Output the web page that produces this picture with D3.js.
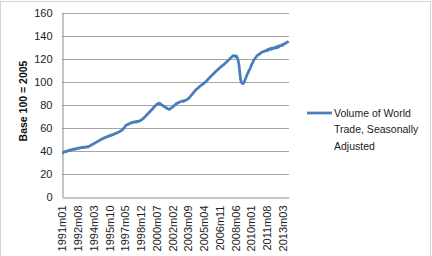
<!DOCTYPE html>
<html>
<head>
<meta charset="utf-8">
<script src="https://cdn.jsdelivr.net/npm/d3@7"></script>
<style>
  body { margin: 0; background: #fff; }
  svg { display: block; font-family: "Liberation Sans", Arial, sans-serif; }
</style>
</head>
<body>
<div id="chart"></div>
<script>
// monthly series, 1991m01 .. 2013m10
const startYear = 1991;
const volume = [
  38.5, 38.0, 38.9, 39.0, 39.4, 39.0, 39.7, 39.8, 40.2, 40.0, 40.6, 40.4,       // 1991
  40.9, 41.0, 41.3, 40.9, 41.6, 41.7, 41.5, 42.1, 42.2, 41.9, 42.5, 42.6,       // 1992
  42.4, 42.9, 42.6, 43.0, 42.7, 43.2, 43.3, 43.1, 43.7, 43.9, 44.4, 44.8,       // 1993
  45.3, 45.5, 46.1, 46.4, 47.0, 47.2, 47.6, 48.0, 48.5, 48.7, 49.4, 49.6,       // 1994
  50.1, 50.3, 50.9, 51.2, 51.1, 51.8, 52.0, 52.1, 52.7, 52.8, 53.3, 53.0,       // 1995
  53.6, 53.7, 54.3, 54.3, 54.9, 55.0, 55.4, 55.6, 56.1, 56.3, 56.9, 57.3,       // 1996
  57.9, 58.4, 59.4, 60.1, 61.3, 62.0, 62.6, 62.6, 63.1, 63.4, 63.8, 63.9,       // 1997
  64.4, 64.6, 64.3, 64.9, 65.1, 64.7, 65.3, 65.4, 65.2, 65.8, 66.0, 66.5,       // 1998
  66.8, 67.6, 68.0, 68.9, 69.6, 70.4, 71.0, 71.9, 72.6, 73.4, 74.0, 74.9,       // 1999
  75.5, 76.4, 77.2, 78.1, 78.8, 79.6, 80.1, 80.6, 81.2, 80.3, 80.9, 79.9,       // 2000
  79.6, 79.1, 78.7, 77.9, 77.9, 77.1, 77.1, 76.3, 76.1, 75.7, 76.3, 76.8,       // 2001
  77.4, 77.7, 78.6, 79.1, 79.9, 80.3, 81.0, 81.2, 81.7, 81.8, 82.4, 82.5,       // 2002
  82.9, 83.0, 82.6, 83.3, 83.4, 83.9, 84.2, 84.5, 85.1, 85.8, 86.8, 87.5,       // 2003
  88.5, 89.2, 90.2, 90.8, 91.9, 92.5, 93.4, 93.8, 94.7, 95.2, 96.0, 96.4,       // 2004
  97.0, 97.4, 98.1, 98.5, 99.3, 99.7, 100.6, 101.2, 102.2, 102.7, 103.7, 104.3, // 2005
  105.2, 105.7, 106.5, 107.1, 108.0, 108.6, 109.4, 109.9, 110.7, 111.1, 112.0, 112.5, // 2006
  113.3, 113.7, 114.4, 114.8, 115.6, 116.1, 117.0, 117.5, 118.4, 118.9, 119.8, 120.3, // 2007
  121.1, 121.7, 122.6, 122.5, 122.3, 121.4, 122.2, 120.8, 119.0, 115.0, 108.5, 102.0, // 2008
  99.2, 98.5, 98.2, 99.1, 100.5, 102.5, 104.2, 106.1, 107.5, 109.3, 110.6, 112.1,     // 2009
  114.0, 115.6, 116.9, 118.6, 119.4, 120.6, 121.4, 122.6, 122.9, 123.6, 123.9, 124.6, // 2010
  125.0, 125.6, 125.9, 126.1, 126.4, 126.6, 126.9, 127.6, 126.9, 128.1, 127.9, 128.6, // 2011
  127.9, 129.1, 128.4, 129.1, 129.4, 129.0, 130.1, 129.4, 130.6, 129.9, 131.1, 130.9, // 2012
  131.1, 132.0, 131.4, 132.6, 132.9, 133.1, 133.4, 134.1, 134.4, 135.0               // 2013
];
const tickLabels = ["1991m01", "1992m08", "1994m03", "1995m10", "1997m05", "1998m12",
  "2000m07", "2002m02", "2003m09", "2005m04", "2006m11", "2008m06", "2010m01",
  "2011m08", "2013m03"];
const yTicks = [0, 20, 40, 60, 80, 100, 120, 140, 160];
const seriesName = ["Volume of World", "Trade, Seasonally", "Adjusted"];
const yTitle = "Base 100 = 2005";

// month category labels
const months = volume.map(function (v, i) {
  const y = startYear + Math.floor(i / 12);
  const m = (i % 12) + 1;
  return y + "m" + (m < 10 ? "0" + m : m);
});
const data = months.map(function (m, i) { return { month: m, value: volume[i] }; });

const W = 432, H = 256;
const plot = { left: 62, right: 289, top: 12.5, bottom: 196.5 };

const svg = d3.select("#chart").append("svg").attr("width", W).attr("height", H);

// outer chart frame
svg.append("rect")
  .attr("x", 0.5).attr("y", 1.5)
  .attr("width", 430).attr("height", 262)
  .attr("fill", "none")
  .attr("stroke", "#d4d4d4");

const x = d3.scaleBand().domain(months).range([plot.left, plot.right]);
const y = d3.scaleLinear().domain([0, 160]).range([plot.bottom, plot.top]);

// gridlines
svg.append("g")
  .selectAll("line")
  .data(yTicks.filter(function (d) { return d > 0; }))
  .join("line")
  .attr("x1", plot.left).attr("x2", plot.right)
  .attr("y1", function (d) { return Math.round(y(d)) + 0.5; })
  .attr("y2", function (d) { return Math.round(y(d)) + 0.5; })
  .attr("stroke", "#a6a6a6")
  .attr("stroke-width", 1);

// y axis
const yAxis = svg.append("g")
  .attr("transform", "translate(" + (plot.left + 0.5) + ",0)")
  .call(d3.axisLeft(y).tickValues(yTicks).tickSize(0).tickPadding(10));
yAxis.select(".domain").attr("stroke", "#8c8c8c");
yAxis.selectAll("text").attr("font-size", 11).attr("fill", "#222")
  .attr("font-family", "Liberation Sans, Arial, sans-serif");

// x axis
const xAxis = svg.append("g")
  .attr("transform", "translate(0," + (Math.round(plot.bottom) + 0.5) + ")")
  .call(d3.axisBottom(x).tickValues(tickLabels).tickSize(0).tickPadding(0));
xAxis.select(".domain").attr("stroke", "#8c8c8c");
xAxis.selectAll("text")
  .attr("font-size", 11)
  .attr("fill", "#222")
  .attr("font-family", "Liberation Sans, Arial, sans-serif")
  .attr("transform", "rotate(-90)")
  .attr("text-anchor", "end")
  .attr("x", -8)
  .attr("y", 0)
  .attr("dy", "0.35em");

// y axis title
svg.append("text")
  .attr("transform", "translate(27,101) rotate(-90)")
  .attr("text-anchor", "middle")
  .attr("font-size", 10.5)
  .attr("font-weight", "bold")
  .attr("fill", "#111")
  .text(yTitle);

// series line
const line = d3.line()
  .x(function (d) { return x(d.month) + x.bandwidth() / 2; })
  .y(function (d) { return y(d.value); });

svg.append("path")
  .datum(data)
  .attr("fill", "none")
  .attr("stroke", "#4a7ebb")
  .attr("stroke-width", 2.75)
  .attr("stroke-linejoin", "round")
  .attr("d", line);

// legend
const legend = svg.append("g").attr("transform", "translate(307,113)");
legend.append("line")
  .attr("x1", 0).attr("x2", 25).attr("y1", 0).attr("y2", 0)
  .attr("stroke", "#4a7ebb").attr("stroke-width", 2.75);
legend.selectAll("text")
  .data(seriesName)
  .join("text")
  .attr("x", 27)
  .attr("y", function (d, i) { return i * 16.5; })
  .attr("dy", "0.35em")
  .attr("font-size", 10.5)
  .attr("fill", "#222")
  .text(function (d) { return d; });
</script>
</body>
</html>
